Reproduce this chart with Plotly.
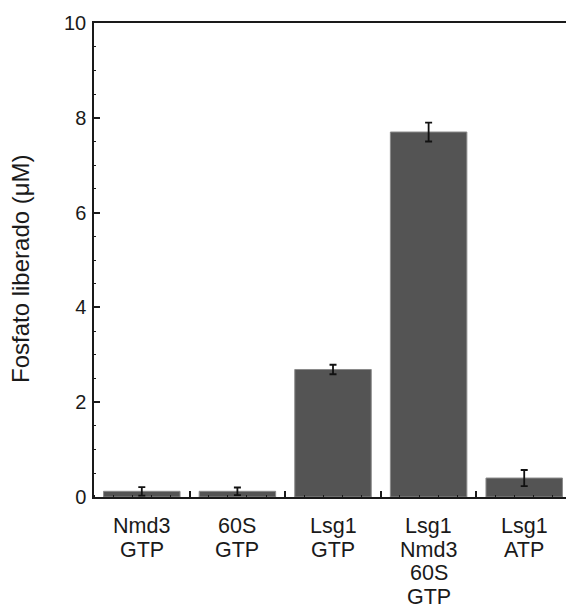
import plotly.graph_objects as go

categories = ["Nmd3\nGTP", "60S\nGTP", "Lsg1\nGTP", "Lsg1\nNmd3\n60S\nGTP", "Lsg1\nATP"]
positions = [1, 2, 3, 4, 5]
values = [0.12, 0.12, 2.69, 7.70, 0.40]
errors = [0.09, 0.08, 0.10, 0.20, 0.17]
boundaries = [1.5, 2.5, 3.5, 4.5]
y_ticks = [0, 2, 4, 6, 8, 10]
y_title = "Fosfato liberado (μM)"

FONT = "Liberation Sans, Arial, sans-serif"
INK = "#1a1a1a"
LABEL_SIZE = 21.5
LINE_STEP = 23.5
FIRST_LINE = 29

fig = go.Figure()
fig.add_trace(go.Bar(
    x=positions, y=values, width=0.8,
    marker=dict(color="#545454", line=dict(color="#8a8a8a", width=1)),
    error_y=dict(type="data", array=errors, visible=True, color="#111111",
                 thickness=1.8, width=3.5),
    showlegend=False,
))
# invisible trace on overlay axis to carry boundary ticks
fig.add_trace(go.Scatter(x=[boundaries[0]], y=[0], xaxis="x2", mode="markers",
                         marker=dict(opacity=0), showlegend=False, hoverinfo="skip"))

# multi-line category labels with tight line spacing
for pos, label in zip(positions, categories):
    for j, line in enumerate(label.split("\n")):
        fig.add_annotation(
            x=pos, xref="x", y=0, yref="y", text=line, showarrow=False,
            xanchor="center", yanchor="middle",
            yshift=-(FIRST_LINE + j * LINE_STEP),
            font=dict(size=LABEL_SIZE, family=FONT, color=INK),
        )

# y-axis title
fig.add_annotation(
    x=0, xref="paper", y=0.5, yref="paper", text=y_title, showarrow=False,
    textangle=-90, xanchor="center", yanchor="middle", xshift=-74, yshift=-9,
    font=dict(size=24, family=FONT, color=INK),
)

xr = [0.5, 5.437]
fig.update_layout(
    width=566, height=608,
    margin=dict(l=94, r=0, t=23, b=111),
    plot_bgcolor="white", paper_bgcolor="white",
    font=dict(family=FONT, color=INK),
    xaxis=dict(
        range=xr, tickvals=positions, showticklabels=False, ticks="",
        showline=True, linecolor=INK, linewidth=1.5, mirror=True,
        showgrid=False, zeroline=False,
        minor=dict(ticks="inside", tick0=0.5, dtick=0.2, ticklen=2.5,
                   tickwidth=1.2, tickcolor=INK, showgrid=False),
    ),
    xaxis2=dict(
        range=xr, overlaying="x", side="bottom", tickvals=boundaries,
        ticks="inside", ticklen=6, tickwidth=1.5, tickcolor=INK,
        showticklabels=False, showline=False, showgrid=False, zeroline=False,
    ),
    yaxis=dict(
        range=[0, 10], tickvals=y_ticks, ticks="inside", ticklen=6,
        tickwidth=1.5, tickcolor=INK,
        showline=True, linecolor=INK, linewidth=1.5, mirror=False,
        showgrid=False, zeroline=False,
        tickfont=dict(size=20, family=FONT, color=INK),
        ticklabelstandoff=2,
        minor=dict(ticks="inside", dtick=0.5, ticklen=2.5, tickwidth=1.2,
                   tickcolor=INK, showgrid=False),
    ),
)

fig.write_html("out.html")
